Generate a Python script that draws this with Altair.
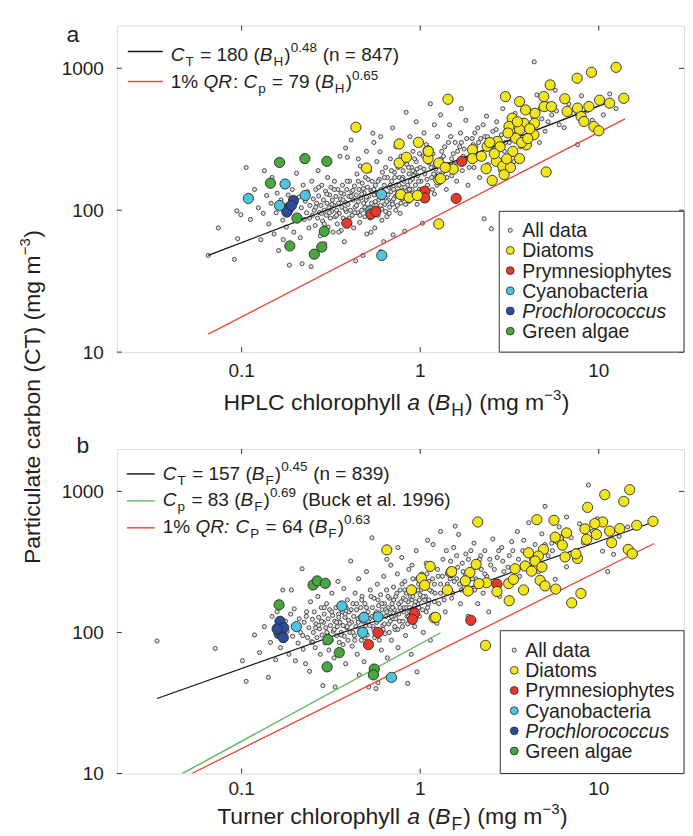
import altair as alt
import pandas as pd

FONT = "Liberation Sans"
INK = "#231f20"
FRAME = "#333333"

# ---------------- panel a : HPLC chlorophyll a ----------------
grey_a = [
    (0.065, 48), (0.074, 75), (0.091, 45), (0.095, 63), (0.094, 99), (0.099, 93), (0.106, 200), (0.134, 190),
    (0.138, 127), (0.112, 86), (0.118, 140), (0.124, 104), (0.128, 62), (0.132, 95), (0.142, 80), (0.146, 112),
    (0.148, 170),
    (0.152, 68), (0.156, 96), (0.158, 132), (0.161, 52), (0.166, 118), (0.17, 85), (0.171, 62), (0.174, 150),
    (0.178, 76), (0.182, 128), (0.185, 41), (0.188, 98), (0.192, 140), (0.196, 70), (0.2, 112), (0.203, 182),
    (0.206, 90), (0.21, 124), (0.213, 64), (0.216, 104), (0.218, 42), (0.221, 150), (0.224, 86), (0.227, 116),
    (0.231, 96), (0.234, 135), (0.238, 75), (0.241, 108), (0.245, 40), (0.247, 160), (0.249, 92),
    (0.252, 120), (0.255, 100), (0.258, 78), (0.26, 140), (0.263, 112), (0.266, 88), (0.268, 190), (0.27, 126),
    (0.273, 96), (0.276, 66), (0.278, 108), (0.281, 150), (0.284, 84), (0.287, 118), (0.29, 100), (0.292, 58),
    (0.295, 136), (0.298, 92), (0.3, 112), (0.303, 170), (0.305, 76), (0.308, 104), (0.311, 128), (0.314, 88),
    (0.316, 145), (0.319, 98), (0.322, 118), (0.325, 70), (0.328, 108), (0.331, 160), (0.334, 90), (0.337, 125),
    (0.34, 100), (0.343, 80), (0.346, 140), (0.349, 112), (0.352, 95), (0.355, 240), (0.358, 120), (0.361, 72),
    (0.364, 105), (0.367, 150), (0.37, 88), (0.373, 130), (0.376, 60), (0.379, 114), (0.382, 274), (0.385, 98),
    (0.388, 140), (0.391, 236), (0.394, 110), (0.397, 84), (0.399, 125),
    (0.402, 160), (0.406, 100), (0.41, 312), (0.413, 135), (0.416, 92), (0.42, 118), (0.424, 75), (0.428, 148),
    (0.431, 105), (0.435, 44), (0.438, 128), (0.442, 180), (0.446, 96), (0.45, 115), (0.454, 140), (0.458, 82),
    (0.462, 205), (0.466, 122), (0.47, 100), (0.474, 155), (0.478, 48), (0.482, 112), (0.486, 132), (0.49, 90),
    (0.494, 170), (0.498, 118), (0.502, 68), (0.506, 145), (0.51, 104), (0.515, 125), (0.52, 190), (0.524, 88),
    (0.529, 138), (0.533, 112), (0.538, 160), (0.543, 349), (0.547, 96), (0.552, 128), (0.556, 75), (0.561, 150),
    (0.566, 108), (0.571, 220), (0.576, 132), (0.58, 92), (0.585, 118), (0.59, 165), (0.595, 258), (0.6, 51),
    (0.604, 140), (0.609, 102), (0.614, 185), (0.619, 122), (0.624, 60), (0.629, 150), (0.634, 110), (0.64, 200),
    (0.645, 130), (0.65, 90), (0.656, 170), (0.662, 118), (0.668, 145), (0.674, 105), (0.68, 230), (0.686, 135),
    (0.692, 160), (0.698, 115),
    (0.705, 67), (0.71, 140), (0.717, 185), (0.724, 125), (0.73, 280), (0.737, 150), (0.744, 108), (0.751, 200),
    (0.758, 130), (0.765, 170), (0.772, 95), (0.78, 240), (0.787, 145), (0.795, 120), (0.802, 190), (0.81, 160),
    (0.818, 71), (0.826, 135), (0.834, 490), (0.842, 210), (0.85, 150), (0.858, 115), (0.866, 180), (0.875, 330),
    (0.884, 140), (0.893, 200), (0.902, 165), (0.911, 260), (0.92, 128), (0.93, 185), (0.94, 150), (0.95, 220),
    (0.96, 110), (0.97, 175), (0.98, 300), (0.99, 140), (1.0, 200), (1.01, 160), (1.03, 81), (1.04, 240),
    (1.06, 180), (1.08, 290), (1.1, 150), (1.12, 215), (1.14, 562), (1.16, 170), (1.18, 250), (1.2, 130),
    (1.22, 195), (1.25, 330), (1.28, 160), (1.31, 230), (1.34, 185), (1.37, 280), (1.4, 140), (1.43, 210),
    (1.46, 400), (1.5, 175), (1.53, 250), (1.57, 300), (1.6, 160), (1.64, 220), (1.68, 350), (1.72, 190),
    (1.76, 270), (1.8, 430), (1.85, 150), (1.9, 240), (1.95, 320), (2.0, 200), (2.05, 280), (2.1, 380),
    (2.15, 170), (2.2, 250), (2.28, 87), (2.3, 330), (2.35, 460), (2.4, 210), (2.45, 290), (2.5, 74),
    (2.55, 360), (2.6, 230), (2.68, 420), (2.75, 300), (2.82, 190), (2.9, 520), (2.96, 260),
    (3.05, 390), (3.15, 300), (3.25, 460), (3.35, 220), (3.45, 350), (3.55, 560), (3.65, 280), (3.8, 430),
    (3.95, 330), (4.1, 500), (4.25, 380), (4.35, 1110), (4.5, 650), (4.65, 300), (4.8, 440), (5.0, 360),
    (5.2, 560), (5.45, 470), (5.7, 700), (6.0, 400), (6.4, 382), (6.8, 560), (7.2, 480), (7.6, 290),
    (8.0, 640), (8.6, 500), (9.2, 430), (10.4, 580), (10.6, 470), (11.5, 660), (12.5, 520),
    (0.6, 330), (0.7, 380), (0.95, 420), (1.3, 470), (1.7, 520), (0.5, 260), (0.45, 230), (0.55, 300),
    (1.05, 350), (1.2, 400),
    (0.26, 105), (0.28, 95), (0.3, 130), (0.32, 110), (0.34, 92), (0.36, 132), (0.38, 102), (0.4, 88),
    (0.42, 138), (0.44, 108), (0.46, 92), (0.48, 142), (0.5, 124), (0.52, 100), (0.54, 135), (0.56, 115),
    (0.58, 160), (0.6, 108), (0.62, 135), (0.64, 98), (0.66, 128), (0.68, 150), (0.7, 110), (0.72, 170),
    (0.74, 128), (0.76, 150), (0.78, 112), (0.8, 170), (0.82, 145), (0.84, 125), (0.86, 200), (0.88, 160),
    (0.9, 140), (0.92, 175), (0.94, 125), (0.96, 195), (0.98, 160), (1.02, 140), (1.05, 195), (1.09, 165),
    (1.13, 240), (1.17, 140), (1.21, 210), (1.26, 180), (1.32, 260), (1.38, 200), (1.44, 300), (1.5, 230),
    (1.58, 190), (1.66, 280), (1.74, 240), (1.82, 320), (1.92, 270), (2.02, 350), (2.12, 300), (2.25, 400),
    (2.38, 330), (2.52, 280), (2.66, 370), (2.85, 340), (3.0, 300), (3.2, 400), (3.4, 480), (3.7, 420),
    (4.0, 370), (4.3, 450), (4.7, 520), (5.2, 420), (5.8, 500), (0.23, 125), (0.24, 88), (0.27, 145),
    (0.29, 80), (0.31, 96), (0.33, 140), (0.35, 70), (0.37, 118), (0.39, 160), (0.41, 125), (0.43, 96),
    (0.45, 160), (0.47, 130), (0.49, 105), (0.51, 165), (0.53, 70), (0.55, 140), (0.57, 100), (0.59, 125),
    (0.61, 85), (0.63, 170), (0.65, 115), (0.67, 95), (0.69, 190), (0.71, 120), (0.73, 100), (0.75, 135),
    (0.77, 210), (0.79, 165), (0.81, 130), (0.83, 110), (0.85, 240), (0.87, 140), (0.89, 120), (0.91, 190),
    (0.93, 230), (0.97, 130), (0.99, 250), (1.07, 130), (1.11, 270), (1.15, 200), (1.19, 180), (1.24, 150),
    (1.29, 210), (1.35, 240), (1.41, 170), (1.48, 330), (1.55, 210), (1.62, 260), (1.7, 300), (1.78, 230),
    (1.88, 200), (1.98, 290), (2.08, 240), (2.18, 320),
]
diatoms_a = [
    (0.436, 384), (0.5, 198), (0.762, 293), (0.762, 215), (0.837, 236), (0.977, 301), (1.107, 262), (1.107, 231),
    (0.778, 129), (0.866, 123), (0.964, 127), (1.27, 215), (1.27, 164), (1.27, 80), (1.43, 605), (3.0, 632),
    (3.6, 583), (4.92, 632), (5.34, 764), (7.56, 851), (9.1, 937), (12.5, 1016), (13.8, 615), (11.5, 568),
    (10.1, 596), (8.8, 538), (7.6, 524), (7.96, 457), (8.25, 422), (9.38, 389), (10.0, 363), (6.65, 497),
    (6.45, 610), (4.94, 537), (5.43, 537), (4.39, 482), (3.89, 509), (3.81, 410), (4.37, 410), (4.33, 340),
    (3.27, 445), (3.14, 389), (3.6, 369), (3.42, 322), (3.93, 289), (3.6, 231), (2.7, 305), (2.67, 221),
    (2.9, 204), (2.37, 282), (2.34, 196), (2.53, 162), (1.96, 267), (1.96, 231), (1.53, 195), (1.38, 200),
    (1.3, 167), (1.11, 260), (5.07, 186), (3.3, 260), (3.7, 300), (3.1, 350), (4.0, 320), (2.8, 280),
    (3.5, 420), (4.1, 375), (2.6, 250), (2.2, 240), (2.45, 300), (3.2, 200), (3.05, 230), (2.95, 178),
]
prym_a = [(0.388, 81), (0.53, 94), (0.564, 98), (1.06, 136), (1.06, 122), (1.71, 221), (1.59, 121)]
cyano_a = [(0.109, 121), (0.175, 153), (0.163, 108), (0.227, 127), (0.607, 129), (0.524, 99), (0.609, 48)]
prochl_a = [(0.195, 117), (0.185, 105), (0.179, 97), (0.19, 108)]
green_a = [(0.163, 217), (0.226, 231), (0.3, 221), (0.145, 155), (0.204, 88), (0.29, 71), (0.186, 56),
           (0.255, 49), (0.281, 55)]
fit_a_black = [(0.065, 48), (11.5, 580)]
fit_a_red = [(0.065, 13.4), (14.0, 440)]

# ---------------- panel b : Turner chlorophyll a ----------------
grey_b = [
    (0.0336, 87), (0.0711, 77), (0.101, 63), (0.106, 45), (0.141, 48), (0.118, 96), (0.126, 72), (0.134, 110),
    (0.145, 85), (0.148, 130),
    (0.155, 64), (0.158, 140), (0.165, 78), (0.17, 200), (0.172, 88), (0.176, 120), (0.18, 102), (0.184, 70),
    (0.188, 135), (0.19, 200), (0.193, 94), (0.197, 147), (0.2, 63), (0.203, 112), (0.207, 84), (0.21, 125),
    (0.214, 100), (0.218, 283), (0.221, 76), (0.224, 118), (0.228, 60), (0.231, 140), (0.234, 92), (0.238, 108),
    (0.24, 53), (0.243, 165), (0.246, 86), (0.249, 124),
    (0.252, 100), (0.255, 140), (0.258, 78), (0.261, 115), (0.264, 92), (0.267, 180), (0.27, 128), (0.273, 106),
    (0.276, 70), (0.279, 150), (0.282, 96), (0.285, 42), (0.287, 118), (0.29, 135), (0.293, 84), (0.296, 108),
    (0.299, 160), (0.302, 98), (0.305, 125), (0.308, 75), (0.311, 145), (0.314, 112), (0.317, 88), (0.32, 190),
    (0.323, 132), (0.326, 102), (0.329, 66), (0.332, 120), (0.334, 41), (0.337, 150), (0.34, 95), (0.343, 110),
    (0.346, 230), (0.349, 135), (0.352, 85), (0.355, 118), (0.358, 160), (0.361, 100), (0.364, 74), (0.367, 140),
    (0.37, 112), (0.373, 205), (0.376, 94), (0.379, 128), (0.382, 60), (0.385, 150), (0.388, 108), (0.391, 170),
    (0.394, 88), (0.397, 122),
    (0.4, 140), (0.404, 100), (0.408, 321), (0.412, 118), (0.416, 80), (0.42, 160), (0.424, 130), (0.428, 95),
    (0.432, 190), (0.436, 110), (0.44, 145), (0.444, 70), (0.448, 125), (0.452, 240), (0.456, 50), (0.46, 104),
    (0.464, 150), (0.468, 88), (0.472, 180), (0.476, 120), (0.48, 135), (0.485, 62), (0.49, 160), (0.495, 112),
    (0.5, 270), (0.505, 96), (0.51, 140), (0.515, 41), (0.52, 125), (0.525, 200), (0.53, 84), (0.536, 469),
    (0.54, 150), (0.545, 110), (0.55, 175), (0.555, 92), (0.56, 135), (0.565, 40), (0.57, 118), (0.575, 220),
    (0.58, 44), (0.585, 155), (0.59, 100), (0.595, 130), (0.6, 185), (0.606, 75), (0.612, 145), (0.618, 112),
    (0.624, 250), (0.63, 160), (0.636, 98), (0.642, 130), (0.648, 200), (0.654, 66), (0.66, 150), (0.666, 115),
    (0.672, 175), (0.678, 138), (0.684, 300), (0.69, 88), (0.696, 160),
    (0.702, 125), (0.709, 210), (0.716, 145), (0.723, 105), (0.73, 180), (0.737, 135), (0.744, 260), (0.751, 78),
    (0.758, 160), (0.765, 120), (0.772, 200), (0.78, 145), (0.788, 340), (0.796, 110), (0.804, 175), (0.812, 150),
    (0.82, 230), (0.828, 95), (0.836, 190), (0.845, 130), (0.85, 43.5), (0.854, 165), (0.863, 280), (0.872, 140),
    (0.881, 205), (0.89, 70), (0.9, 170), (0.91, 240), (0.92, 150), (0.93, 110), (0.94, 195), (0.95, 380),
    (0.96, 52.5), (0.97, 160), (0.98, 220), (0.99, 130), (1.0, 185), (1.02, 260), (1.04, 100), (1.06, 170),
    (1.08, 310), (1.1, 150), (1.12, 230), (1.14, 88), (1.16, 195), (1.18, 420), (1.2, 165),
    (1.24, 116), (1.26, 250), (1.3, 190), (1.34, 330), (1.38, 140), (1.42, 220), (1.46, 280), (1.5, 175),
    (1.54, 400), (1.57, 567), (1.6, 240), (1.64, 495), (1.68, 160), (1.72, 310), (1.76, 210), (1.8, 360),
    (1.85, 130), (1.9, 270), (1.95, 200), (2.0, 430), (2.05, 240), (2.1, 160), (2.15, 330), (2.2, 280),
    (2.25, 190), (2.3, 380), (2.36, 250), (2.42, 140), (2.48, 300), (2.55, 460), (2.62, 220), (2.7, 340),
    (2.78, 180), (2.86, 400), (2.94, 270),
    (3.05, 230), (3.15, 350), (3.25, 440), (3.35, 290), (3.5, 520), (3.6, 250), (3.75, 380), (3.9, 310),
    (4.05, 600), (4.2, 330), (4.4, 420), (4.6, 270), (4.8, 500), (5.0, 784), (5.2, 350), (5.45, 430),
    (5.7, 238), (6.0, 560), (6.3, 400), (6.6, 659), (6.6, 292), (7.0, 470), (7.4, 380), (7.8, 590),
    (8.2, 432), (8.75, 1110), (9.2, 520), (9.8, 640), (10.5, 377), (11.2, 270), (12.1, 358), (13.0, 480),
    (14.5, 560),
    (0.65, 330), (0.75, 400), (1.1, 450), (1.4, 380), (0.9, 300), (1.3, 520),
    (0.26, 108), (0.28, 120), (0.3, 100), (0.32, 140), (0.34, 118), (0.36, 96), (0.38, 135), (0.4, 115),
    (0.42, 100), (0.44, 160), (0.46, 128), (0.48, 105), (0.5, 150), (0.52, 112), (0.54, 130), (0.56, 98),
    (0.58, 170), (0.6, 125), (0.62, 105), (0.64, 145), (0.66, 180), (0.68, 120), (0.7, 150), (0.72, 110),
    (0.74, 190), (0.76, 135), (0.78, 165), (0.8, 120), (0.82, 200), (0.84, 150), (0.86, 130), (0.88, 180),
    (0.9, 210), (0.92, 135), (0.94, 165), (0.96, 240), (0.98, 150), (1.01, 200), (1.03, 145), (1.05, 230),
    (1.07, 180), (1.09, 260), (1.11, 160), (1.13, 200), (1.17, 240), (1.21, 190), (1.25, 280), (1.3, 220),
    (1.36, 170), (1.42, 260), (1.48, 320), (1.55, 230), (1.62, 290), (1.7, 200), (1.78, 260), (1.86, 330),
    (1.96, 240), (2.06, 290), (2.18, 350), (2.3, 260), (2.45, 330), (2.6, 280), (2.75, 380), (2.9, 320),
    (3.1, 290), (3.3, 380), (3.55, 330), (3.8, 450), (4.1, 380), (4.5, 350), (5.0, 420), (5.5, 380),
    (6.2, 450), (0.22, 95), (0.23, 130), (0.25, 85), (0.27, 112), (0.29, 150), (0.31, 90), (0.33, 105),
    (0.35, 128), (0.37, 82), (0.39, 110), (0.41, 145), (0.43, 88), (0.45, 118), (0.47, 170), (0.49, 92),
    (0.51, 120), (0.53, 180), (0.55, 105), (0.57, 140), (0.59, 88), (0.61, 160), (0.63, 115), (0.65, 140),
    (0.67, 100), (0.69, 130), (0.71, 170), (0.73, 125), (0.75, 105), (0.77, 150), (0.79, 220), (0.81, 140),
    (0.83, 170), (0.85, 115), (0.87, 150), (0.89, 125), (0.91, 180), (0.93, 155), (0.95, 130), (0.97, 200),
    (0.99, 170), (1.04, 180), (1.08, 140), (1.12, 170), (1.16, 300), (1.2, 220), (1.27, 160), (1.33, 250),
    (1.4, 200), (1.47, 240), (1.52, 190), (1.6, 350), (1.66, 220), (1.74, 270), (1.82, 230), (1.92, 380),
    (2.02, 200),
]
diatoms_b = [
    (0.65, 385), (1.136, 294), (1.016, 242), (1.06, 216), (0.893, 200), (1.486, 266), (1.42, 200), (1.897, 266),
    (1.79, 232), (1.855, 197), (2.056, 304), (1.195, 127), (2.1, 607), (4.5, 631), (5.61, 624), (8.65, 771),
    (10.8, 948), (13.8, 850), (14.9, 1028), (20.1, 614), (16.3, 575), (13.1, 545), (11.5, 523), (10.5, 607),
    (9.5, 591), (8.36, 542), (9.7, 495), (11.8, 433), (8.55, 457), (14.6, 388), (15.4, 361), (6.6, 508),
    (5.94, 457), (6.25, 416), (5.7, 474), (6.47, 343), (7.6, 335), (7.45, 361), (4.9, 388), (4.59, 348),
    (4.04, 367), (4.4, 321), (4.8, 291), (3.87, 296), (3.4, 283), (4.2, 272), (4.69, 234), (5.0, 214),
    (3.79, 200), (3.13, 222), (3.33, 238), (5.74, 203), (7.94, 189), (7.05, 162), (3.15, 168), (2.69, 195),
    (2.35, 225), (2.13, 222), (1.5, 270), (1.22, 128), (2.32, 81),
]
prym_b = [(0.93, 137), (0.905, 124), (0.58, 100), (0.513, 82), (1.92, 122), (2.69, 220)]
cyano_b = [(0.364, 154), (0.2025, 110), (0.484, 128), (0.58, 129), (0.476, 100), (0.69, 48)]
prochl_b = [(0.164, 120), (0.172, 108), (0.162, 98), (0.171, 92), (0.158, 106)]
green_b = [(0.251, 217), (0.265, 232), (0.294, 223), (0.162, 157), (0.304, 89), (0.352, 72), (0.301, 57),
           (0.553, 55), (0.547, 50)]
fit_b_black = [(0.0336, 34), (19.0, 590)]
fit_b_green = [(0.0466, 10), (1.3, 99.5)]
fit_b_red = [(0.0526, 10), (20.4, 427)]

x_ticks = [0.1, 1, 10]
x_tick_labels = ["0.1", "1", "10"]
y_ticks = [10, 100, 1000]
y_tick_labels = ["10", "100", "1000"]
groups = ["Diatoms", "Prymnesiophytes", "Cyanobacteria", "Prochlorococcus", "Green algae"]
group_colors = ["#f3e51c", "#e8392b", "#4fc4e0", "#2b4c9c", "#46a83d"]
legend_labels = ["All data", "Diatoms", "Prymnesiophytes", "Cyanobacteria", "Prochlorococcus", "Green algae"]

# ---------------- helpers ----------------
W = 568
HA = 327
HB = 325
ONE = pd.DataFrame({"k": [0]})
XS = dict(type="log", domain=[0.02, 30], nice=False)
YS = dict(type="log", domain=[10, 2000], nice=False)

WID = {' ': 278, '%': 889, '(': 333, ')': 333, '.': 278, ':': 278, '=': 584, '\u2212': 584,
       'A': 667, 'B': 667, 'C': 722, 'F': 611, 'H': 722, 'L': 556, 'P': 667, 'Q': 778, 'R': 722,
       'T': 611, 'a': 556, 'b': 556, 'c': 500, 'd': 556, 'e': 556, 'g': 556, 'h': 556, 'i': 222,
       'k': 500, 'l': 222, 'm': 833, 'n': 556, 'o': 556, 'p': 556, 'r': 333, 's': 500, 't': 278,
       'u': 556, 'y': 500}
GAP = {"i": 1.0, "sub": 1.2, "sup": 0.5, "n": 0.0}


def tw(s, size):
    return sum(WID.get(c, 556) for c in s) * size / 1000.0


def run_sizes(kind, main, sub, sup, sub_dy, sup_dy):
    if kind == "sub":
        return sub, sub_dy, "normal"
    if kind == "sup":
        return sup, sup_dy, "normal"
    return main, 0, ("italic" if kind == "i" else "normal")


def runs_width(runs, main, sub, sup):
    return sum(tw(t, run_sizes(k, main, sub, sup, 0, 0)[0]) + GAP[k] for t, k in runs)


def text_runs(runs, x0, y0, main, sub, sup, sub_dy, sup_dy, angle=0):
    layers = []
    pos = 0.0
    for text, kind in runs:
        size, shift, style = run_sizes(kind, main, sub, sup, sub_dy, sup_dy)
        lead = len(text) - len(text.lstrip(' '))
        pos += tw(' ' * lead, size)
        body = text.strip(' ')
        if body:
            if angle == 0:
                px, py = x0 + pos, y0 + shift
            else:
                px, py = x0 + shift, y0 - pos
            kw = dict(text=body, font=FONT, fontSize=size, fontStyle=style, color=INK,
                      align="left", baseline="alphabetic")
            if angle:
                kw["angle"] = angle
            layers.append(alt.Chart(ONE).mark_text(**kw).encode(x=alt.value(px), y=alt.value(py)))
        pos += tw(body, size)
        trail = len(text) - len(text.rstrip(' ')) if body else 0
        pos += tw(' ' * trail, size)
        pos += GAP[kind]
    return layers


def colored_df(d, p, c, pr, g):
    rows = []
    for name, pts in [("Green algae", g), ("Prochlorococcus", pr), ("Cyanobacteria", c),
                      ("Prymnesiophytes", p), ("Diatoms", d)]:
        for x, y in pts:
            rows.append({"x": x, "y": y, "group": name})
    return pd.DataFrame(rows)


def panel(H, grey, colored, fits, xlab_base, eq_rows, eq_sample, eq_text_x, legend_box, legend_rows,
          xtitle_runs, xtitle_center, xtitle_base, letter, letter_pos, extra=None):
    xs = alt.Scale(**XS)
    ys = alt.Scale(**YS)
    layers = []
    gdf = pd.DataFrame(grey, columns=["x", "y"])
    layers.append(
        alt.Chart(gdf).mark_circle(size=17, fill="#e2e2e2", stroke="#3c3c3c", strokeWidth=0.9, opacity=1).encode(
            x=alt.X("x:Q", scale=xs, axis=None),
            y=alt.Y("y:Q", scale=ys, axis=None),
        ))
    for pts, col, sw in fits:
        fdf = pd.DataFrame(pts, columns=["x", "y"])
        layers.append(alt.Chart(fdf).mark_line(color=col, strokeWidth=sw, clip=True).encode(
            x=alt.X("x:Q", scale=xs, axis=None), y=alt.Y("y:Q", scale=ys, axis=None)))
    layers.append(
        alt.Chart(colored).mark_circle(size=105, stroke="#2a2a2a", strokeWidth=0.9, opacity=1).encode(
            x=alt.X("x:Q", scale=xs, axis=None), y=alt.Y("y:Q", scale=ys, axis=None),
            color=alt.Color("group:N", scale=alt.Scale(domain=groups, range=group_colors), legend=None)))
    # inward ticks on all four sides
    tx = pd.DataFrame({"t": x_ticks, "lab": x_tick_labels})
    ty = pd.DataFrame({"t": y_ticks, "lab": y_tick_labels})
    for ya, yb in [(H, H - 5), (0, 5)]:
        layers.append(alt.Chart(tx).mark_rule(color=FRAME, strokeWidth=1).encode(
            x=alt.X("t:Q", scale=xs, axis=None), y=alt.value(ya), y2=alt.value(yb)))
    for xa, xb in [(0, 5), (W - 5, W)]:
        layers.append(alt.Chart(ty).mark_rule(color=FRAME, strokeWidth=1).encode(
            y=alt.Y("t:Q", scale=ys, axis=None), x=alt.value(xa), x2=alt.value(xb)))
    # tick labels
    layers.append(alt.Chart(tx).mark_text(font=FONT, fontSize=19, color=INK, align="center",
                                          baseline="alphabetic").encode(
        x=alt.X("t:Q", scale=xs, axis=None), y=alt.value(H + xlab_base), text="lab:N"))
    layers.append(alt.Chart(ty).mark_text(font=FONT, fontSize=19, color=INK, align="right",
                                          baseline="alphabetic", dy=6.5).encode(
        y=alt.Y("t:Q", scale=ys, axis=None), x=alt.value(-13), text="lab:N"))
    # legend box
    bx, by = legend_box
    layers.append(alt.Chart(ONE).mark_rect(fill="white", stroke=FRAME, strokeWidth=1).encode(
        x=alt.value(bx), x2=alt.value(W), y=alt.value(by), y2=alt.value(H)))
    sym_x, txt_x, row0, step = legend_rows
    for i, lab in enumerate(legend_labels):
        yy = row0 + i * step
        if i == 0:
            layers.append(alt.Chart(ONE).mark_circle(size=17, fill="#e2e2e2", stroke="#3c3c3c",
                                                     strokeWidth=0.9, opacity=1).encode(
                x=alt.value(sym_x), y=alt.value(yy)))
        else:
            layers.append(alt.Chart(ONE).mark_circle(size=62, fill=group_colors[i - 1], stroke="#2a2a2a",
                                                     strokeWidth=0.8, opacity=1).encode(
                x=alt.value(sym_x), y=alt.value(yy)))
        kind = "i" if lab == "Prochlorococcus" else "n"
        layers += text_runs([(lab, kind)], txt_x, yy + 7, 19.5, 14, 14, 5, -9)
    # equations
    sx0, sx1 = eq_sample
    for runs, col, ysamp, ybase in eq_rows:
        layers.append(alt.Chart(ONE).mark_rule(color=col, strokeWidth=1.4).encode(
            x=alt.value(sx0), x2=alt.value(sx1), y=alt.value(ysamp)))
        layers += text_runs(runs, eq_text_x, ybase, 19, 13.5, 13.5, 5, -9)
    # x title
    wt = runs_width(xtitle_runs, 23, 17.5, 15)
    layers += text_runs(xtitle_runs, xtitle_center - wt / 2, xtitle_base, 23, 17.5, 15, 6, -10)
    # panel letter
    layers.append(alt.Chart(ONE).mark_text(text=letter, font=FONT, fontSize=23, color=INK, align="center",
                                           baseline="alphabetic").encode(
        x=alt.value(letter_pos[0]), y=alt.value(letter_pos[1])))
    if extra:
        layers += extra
    return alt.layer(*layers).properties(width=W, height=H)


# y title (shared), drawn in panel a, rotated
ytitle_runs = [("Particulate carbon (CT) (mg m", "n"), ("\u22123", "sup"), (")", "n")]
wy = runs_width(ytitle_runs, 23, 17.5, 15)
ytitle_layers = text_runs(ytitle_runs, -77, 372 + wy / 2, 23, 17.5, 15, 6, -10, angle=270)

eq_a = [
    ([("C", "i"), ("T", "sub"), (" = 180 (", "n"), ("B", "i"), ("H", "sub"), (")", "n"), ("0.48", "sup"),
      (" (n = 847)", "n")], "#111111", 26, 35),
    ([("1% ", "n"), ("QR", "i"), (": ", "n"), ("C", "i"), ("p", "sub"), (" = 79 (", "n"), ("B", "i"),
      ("H", "sub"), (")", "n"), ("0.65", "sup")], "#e8453c", 56, 63),
]
eq_b = [
    ([("C", "i"), ("T", "sub"), (" = 157 (", "n"), ("B", "i"), ("F", "sub"), (")", "n"), ("0.45", "sup"),
      (" (n = 839)", "n")], "#111111", 25, 31),
    ([("C", "i"), ("p", "sub"), (" = 83 (", "n"), ("B", "i"), ("F", "sub"), (")", "n"), ("0.69", "sup"),
      (" (Buck et al. 1996)", "n")], "#5cb85c", 52, 57),
    ([("1% ", "n"), ("QR:", "i"), (" ", "n"), ("C", "i"), ("P", "sub"), (" = 64 (", "n"), ("B", "i"),
      ("F", "sub"), (")", "n"), ("0.63", "sup")], "#e8453c", 79, 84),
]

panel_a = panel(
    HA, grey_a, colored_df(diatoms_a, prym_a, cyano_a, prochl_a, green_a),
    [(fit_a_red, "#e8453c", 1.3), (fit_a_black, "#111111", 1.2)],
    25, eq_a, (11, 46), 54, (383, 186), (394, 406, 205, 20.2),
    [("HPLC chlorophyll ", "n"), ("a", "i"), (" (", "n"), ("B", "i"), ("H", "sub"), (") (mg m", "n"),
     ("\u22123", "sup"), (")", "n")],
    280, 385, "a", (-44, 16.5), extra=ytitle_layers)

panel_b = panel(
    HB, grey_b, colored_df(diatoms_b, prym_b, cyano_b, prochl_b, green_b),
    [(fit_b_red, "#e8453c", 1.3), (fit_b_green, "#5cb85c", 1.4), (fit_b_black, "#111111", 1.2)],
    22, eq_b, (10, 38), 46, (384, 182), (398, 409, 201.5, 20.2),
    [("Turner chlorophyll ", "n"), ("a", "i"), (" (", "n"), ("B", "i"), ("F", "sub"), (") (mg m", "n"),
     ("\u22123", "sup"), (")", "n")],
    276, 376, "b", (-34, 4))

chart = alt.vconcat(panel_a, panel_b, spacing=97, bounds="flush").properties(
    padding={"left": 9, "top": 15, "right": 0, "bottom": 0},
    background="white",
).configure_view(stroke=FRAME, strokeWidth=1).configure(font=FONT)

chart.save("out.html", embed_options={"renderer": "svg", "actions": False})
